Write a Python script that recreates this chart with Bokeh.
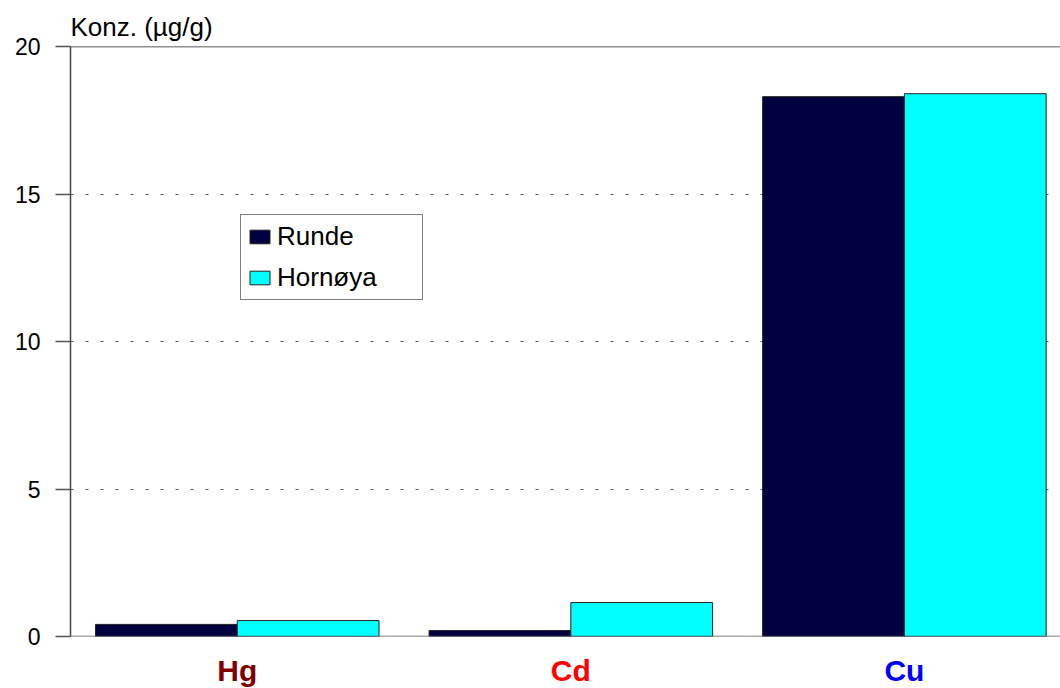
from bokeh.plotting import figure
from bokeh.layouts import column
from bokeh.models import (ColumnDataSource, Range1d, FixedTicker, Legend,
                          LegendItem, Span)
from bokeh.core.properties import value
from bokeh.embed import file_html
from bokeh.resources import INLINE

# ---- data ----
metals = ["Hg", "Cd", "Cu"]
metal_colors = ["#800000", "#ff0000", "#0000ff"]
runde = [0.41, 0.20, 18.3]
hornoya = [0.54, 1.15, 18.4]
y_ticks = [0, 5, 10, 15, 20]

FONT = "Liberation Sans"
pos = [i + 0.5 for i in range(len(metals))]
bw = 0.425

src = ColumnDataSource(dict(
    x=pos,
    xr=[v - bw / 2 for v in pos],
    xh=[v + bw / 2 for v in pos],
    runde=runde,
    hornoya=hornoya,
    metal=metals,
    mcol=metal_colors,
))

xr = Range1d(0, 2.968)
p = figure(width=1060, height=651, output_backend="svg", toolbar_location=None,
           x_range=xr, y_range=Range1d(0, 20),
           min_border_left=70, min_border_right=0, min_border_top=46,
           min_border_bottom=15)

p.title.text = "Konz. (\u00b5g/g)"
p.title.text_font = FONT
p.title.text_font_size = "26px"
p.title.text_font_style = "normal"
p.title.text_color = "black"
p.title.align = "left"
p.title.offset = 0
p.title.standoff = 10

r1 = p.vbar(x="xr", top="runde", width=bw, source=src, fill_color="#000040",
            line_color="#222222", line_width=1)
r2 = p.vbar(x="xh", top="hornoya", width=bw, source=src, fill_color="#00ffff",
            line_color="#222222", line_width=1)

p.outline_line_color = None
p.add_layout(Span(location=20, dimension="width", line_color="#222222", line_width=1.5))
p.add_layout(Span(location=0, dimension="width", line_color="#555555", line_width=1.5))

# y axis
p.yaxis.ticker = FixedTicker(ticks=y_ticks)
p.yaxis.major_tick_out = 15
p.yaxis.major_tick_in = 0
p.yaxis.minor_tick_line_color = None
p.yaxis.major_label_standoff = 15
p.yaxis.major_label_text_font = FONT
p.yaxis.major_label_text_font_size = "23px"
p.yaxis.major_label_text_color = "black"
p.yaxis.axis_line_color = "#444444"
p.yaxis.axis_line_width = 1.5
p.yaxis.major_tick_line_color = "#555555"
p.yaxis.major_tick_line_width = 1.5

# x axis replaced by the span at 0 and a label strip below
p.xaxis.visible = False

# grid
p.xgrid.grid_line_color = None
p.ygrid.ticker = FixedTicker(ticks=y_ticks[1:-1])
p.ygrid.grid_line_color = "#555555"
p.ygrid.grid_line_dash = "3 12"
p.ygrid.grid_line_width = 1

legend = Legend(items=[LegendItem(label="Runde", renderers=[r1]),
                       LegendItem(label="Horn\u00f8ya", renderers=[r2])],
                location=(170, 336), orientation="vertical")
legend.border_line_color = "black"
legend.border_line_width = 1
legend.background_fill_color = "white"
legend.background_fill_alpha = 1
legend.padding = 6
legend.spacing = 10
legend.margin = 0
legend.glyph_width = 25
legend.glyph_height = 17
legend.label_standoff = 5
legend.label_width = 139
legend.label_height = 30
legend.label_text_font = FONT
legend.label_text_font_size = "26px"
legend.label_text_color = "black"
legend.label_text_baseline = "middle"
p.add_layout(legend)

# category label strip
p2 = figure(width=1060, height=37, output_backend="svg", toolbar_location=None,
            x_range=xr, y_range=Range1d(0, 1), x_axis_type=None,
            y_axis_type=None, min_border_left=70, min_border_right=0,
            min_border_top=0, min_border_bottom=0)
p2.outline_line_color = None
p2.grid.visible = False
p2.text(x="x", y=0.5, text="metal", text_color="mcol", source=src,
        text_font=value(FONT), text_font_size="30px", text_font_style="bold",
        text_align="center", text_baseline="middle")

layout = column(p, p2, spacing=0)
open("out.html", "w").write(file_html(layout, INLINE))
